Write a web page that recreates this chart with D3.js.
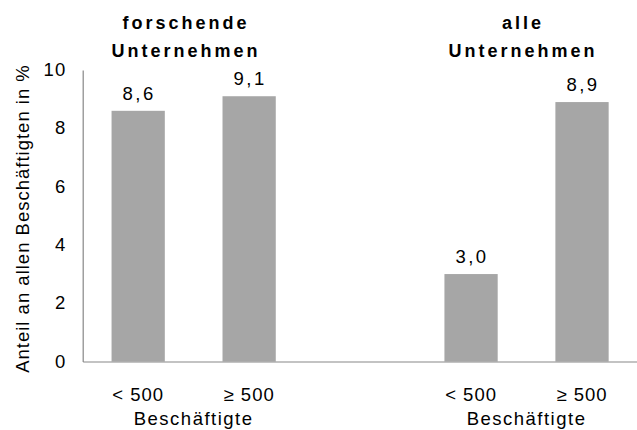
<!DOCTYPE html>
<html><head><meta charset="utf-8">
<script src="https://cdn.jsdelivr.net/npm/d3@7/dist/d3.min.js"></script>
<style>
body{margin:0;background:#fff;}
text{font-family:"Liberation Sans",Arial,sans-serif;fill:#000;}
</style></head>
<body>
<svg id="chart" width="637" height="430"></svg>
<script>
const groups = ["forschende\nUnternehmen", "alle\nUnternehmen"];
const categories = ["< 500", "≥ 500"];
const valuesForschende = [8.6, 9.1];
const valuesAlle = [3.0, 8.9];
const yTicks = [0, 2, 4, 6, 8, 10];
const groupAxisLabel = "Beschäftigte";
const yTitle = "Anteil an allen Beschäftigten in %";

const data = [];
[valuesForschende, valuesAlle].forEach((vals, gi) => {
  vals.forEach((v, ci) => data.push({key: gi + "|" + ci, group: gi, cat: categories[ci], value: v}));
});
const domain = [data[0].key, data[1].key, "gap", data[2].key, data[3].key];

const svg = d3.select("#chart");
const x = d3.scaleBand().domain(domain).range([82.7, 637.5]).paddingInner(0.52).paddingOuter(0.26);
const y = d3.scaleLinear().domain([0, 10]).range([361.5, 70]);
const axisColor = "#878787";
const FF = "'Liberation Sans',Arial,sans-serif";

// bars
svg.selectAll("rect.bar").data(data).enter().append("rect")
  .attr("class", "bar")
  .attr("x", d => x(d.key))
  .attr("width", x.bandwidth())
  .attr("y", d => y(d.value))
  .attr("height", d => y(0) - y(d.value))
  .attr("fill", "#a6a6a6");

// value labels
const fmt = v => d3.format(".1f")(v).replace(".", ",");
svg.selectAll("text.val").data(data).enter().append("text")
  .attr("class", "val")
  .attr("x", d => x(d.key) + x.bandwidth() / 2 + 1)
  .attr("y", d => y(d.value) - 11)
  .attr("text-anchor", "middle")
  .style("font-size", "18.5px").style("letter-spacing", "2.5px")
  .text(d => fmt(d.value));

// y axis
const yAxis = d3.axisLeft(y).tickValues(yTicks).tickSize(0).tickPadding(16.5).tickFormat(d3.format("d"));
const gy = svg.append("g").attr("transform", "translate(82.7,0)").call(yAxis);
gy.select(".domain").attr("stroke", axisColor).attr("stroke-width", 1.2);
gy.selectAll("text").style("font-size", "18.5px").style("letter-spacing", "1px")
  .style("font-family", FF).attr("fill", "#000").attr("dy", "0.3em");

// x axis
const xAxis = d3.axisBottom(x).tickSize(0).tickPadding(0).tickFormat(k => {
  const d = data.find(e => e.key === k); return d ? d.cat : "";
});
const gx = svg.append("g").attr("transform", "translate(0," + y(0) + ")").call(xAxis);
gx.select(".domain").attr("stroke", axisColor).attr("stroke-width", 1.2);
gx.selectAll(".tick text").style("font-size", "18.5px").style("letter-spacing", "1px")
  .style("font-family", FF).attr("fill", "#000")
  .attr("y", 39).attr("dy", 0);

// group axis labels "Beschäftigte"
const groupCenters = [0, 1].map(g => {
  const ks = data.filter(d => d.group === g).map(d => x(d.key) + x.bandwidth() / 2);
  return d3.mean(ks);
});
svg.selectAll("text.grp").data(groupCenters).enter().append("text")
  .attr("class", "grp")
  .attr("x", d => d)
  .attr("y", 425)
  .attr("text-anchor", "middle")
  .style("font-size", "18.5px").style("letter-spacing", "1.5px")
  .text(groupAxisLabel);

// group titles
const titleCenters = [186, 523];
groups.forEach((g, i) => {
  const lines = g.split("\n");
  lines.forEach((ln, li) => {
    svg.append("text")
      .attr("x", titleCenters[i])
      .attr("y", 28.5 + li * 28.5)
      .attr("text-anchor", "middle")
      .style("font-size", "18px").style("font-weight", "bold").style("letter-spacing", "3px")
      .text(ln);
  });
});

// y title
svg.append("text")
  .attr("transform", "translate(28.5,218.5) rotate(-90)")
  .attr("text-anchor", "middle")
  .style("font-size", "18.5px").style("letter-spacing", "1px")
  .text(yTitle);
</script>
</body></html>
